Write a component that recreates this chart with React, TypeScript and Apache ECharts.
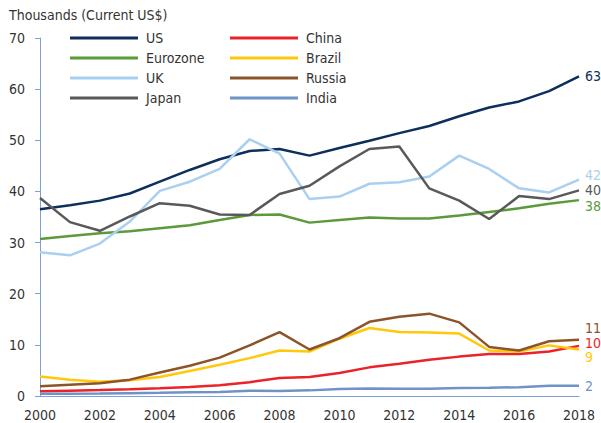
import React, { useEffect, useRef } from "react";
import * as echarts from "echarts";

const years = [2000, 2001, 2002, 2003, 2004, 2005, 2006, 2007, 2008, 2009, 2010, 2011, 2012, 2013, 2014, 2015, 2016, 2017, 2018];
const us = [36.5, 37.3, 38.2, 39.6, 41.9, 44.2, 46.3, 47.9, 48.3, 47.0, 48.5, 49.9, 51.4, 52.8, 54.7, 56.4, 57.6, 59.6, 62.5];
const eurozone = [30.7, 31.3, 31.8, 32.2, 32.8, 33.4, 34.4, 35.4, 35.5, 33.9, 34.4, 34.9, 34.7, 34.7, 35.3, 36.0, 36.7, 37.6, 38.3];
const uk = [28.1, 27.5, 29.8, 34.1, 40.1, 41.9, 44.4, 50.2, 47.4, 38.5, 39.0, 41.5, 41.8, 42.9, 47.0, 44.4, 40.6, 39.8, 42.3];
const japan = [38.7, 34.0, 32.3, 35.1, 37.7, 37.2, 35.5, 35.4, 39.5, 41.1, 44.9, 48.3, 48.8, 40.6, 38.2, 34.6, 39.1, 38.5, 40.2];
const china = [0.95, 1.05, 1.15, 1.3, 1.5, 1.75, 2.1, 2.7, 3.5, 3.7, 4.5, 5.6, 6.3, 7.1, 7.7, 8.2, 8.2, 8.7, 9.8];
const brazil = [3.8, 3.2, 2.8, 3.1, 3.7, 4.9, 6.1, 7.4, 8.9, 8.7, 11.2, 13.3, 12.5, 12.4, 12.2, 8.9, 8.7, 9.9, 9.1];
const russia = [1.9, 2.2, 2.5, 3.2, 4.6, 5.9, 7.5, 9.9, 12.5, 9.1, 11.3, 14.5, 15.5, 16.1, 14.4, 9.6, 8.9, 10.7, 11.0];
const india = [0.45, 0.46, 0.48, 0.55, 0.62, 0.71, 0.8, 1.02, 1.0, 1.1, 1.36, 1.46, 1.43, 1.44, 1.57, 1.6, 1.73, 1.98, 2.0];

const leftLegend = ["US", "Eurozone", "UK", "Japan"];
const rightLegend = ["China", "Brazil", "Russia", "India"];
const yTitle = "Thousands (Current US$)";

const FONT = "'Liberation Sans Narrow', 'Arial Narrow', 'DejaVu Sans Condensed', sans-serif";
const TEXT = "#333333";
const AXIS = "#7ba1d6";

const seriesDefs = [
  { name: "US", data: us, color: "#0c2f5b", offset: [0, 0] },
  { name: "Eurozone", data: eurozone, color: "#5a9a3b", offset: [0, 6] },
  { name: "UK", data: uk, color: "#a9d0f0", offset: [0, -5] },
  { name: "Japan", data: japan, color: "#595959", offset: [0, 0] },
  { name: "China", data: china, color: "#ec2229", offset: [0, -3] },
  { name: "Brazil", data: brazil, color: "#ffc80b", offset: [0, 8] },
  { name: "Russia", data: russia, color: "#8c5428", offset: [0, -12] },
  { name: "India", data: india, color: "#6f93c9", offset: [0, 0] },
];

export default function App() {
  const ref = useRef<HTMLDivElement>(null);
  useEffect(() => {
    document.body.style.margin = "0";
    if (!ref.current) return;
    const chart = echarts.init(ref.current, undefined, { renderer: "svg" });
    const legendCommon = {
      orient: "vertical" as const,
      itemWidth: 68,
      itemHeight: 3,
      itemGap: 6,
      padding: 0,
      icon: "rect",
      textStyle: { fontFamily: FONT, fontSize: 14, color: TEXT, lineHeight: 14, padding: [0, 0, 0, 3] },
      selectedMode: false,
    };
    chart.setOption({
      animation: false,
      backgroundColor: "#ffffff",
      textStyle: { fontFamily: FONT },
      title: {
        text: yTitle,
        left: 9,
        top: 8,
        padding: 0,
        textStyle: { fontFamily: FONT, fontSize: 14, fontWeight: "normal", color: TEXT },
      },
      legend: [
        { ...legendCommon, data: leftLegend, left: 70, top: 31 },
        { ...legendCommon, data: rightLegend, left: 230, top: 31 },
      ],
      grid: { left: 40, right: 22, top: 38, bottom: 27, containLabel: false },
      xAxis: {
        type: "value",
        min: 2000,
        max: 2018,
        interval: 2,
        axisLine: { show: true, lineStyle: { color: AXIS, width: 1 } },
        axisTick: { show: false },
        splitLine: { show: false },
        axisLabel: { fontFamily: FONT, fontSize: 14, color: TEXT, margin: 12, formatter: (v: number) => String(v) },
      },
      yAxis: {
        type: "value",
        min: 0,
        max: 70,
        interval: 10,
        axisLine: { show: true, lineStyle: { color: AXIS, width: 1 } },
        axisTick: { show: true, length: 5, lineStyle: { color: AXIS } },
        splitLine: { show: false },
        axisLabel: { fontFamily: FONT, fontSize: 14, color: TEXT, margin: 15 },
      },
      series: seriesDefs.map((s) => ({
        name: s.name,
        type: "line",
        data: years.map((y, i) => [y, s.data[i]]),
        showSymbol: false,
        symbol: "none",
        lineStyle: { color: s.color, width: 2.5 },
        itemStyle: { color: s.color },
        endLabel: {
          show: true,
          formatter: (p: any) => String(Math.round(p.value[1])),
          color: s.color,
          fontFamily: FONT,
          fontSize: 14,
          lineHeight: 13,
          distance: 6,
          offset: s.offset,
        },
      })),
    });
    return () => chart.dispose();
  }, []);
  return <div ref={ref} style={{ width: 601, height: 423 }} />;
}
